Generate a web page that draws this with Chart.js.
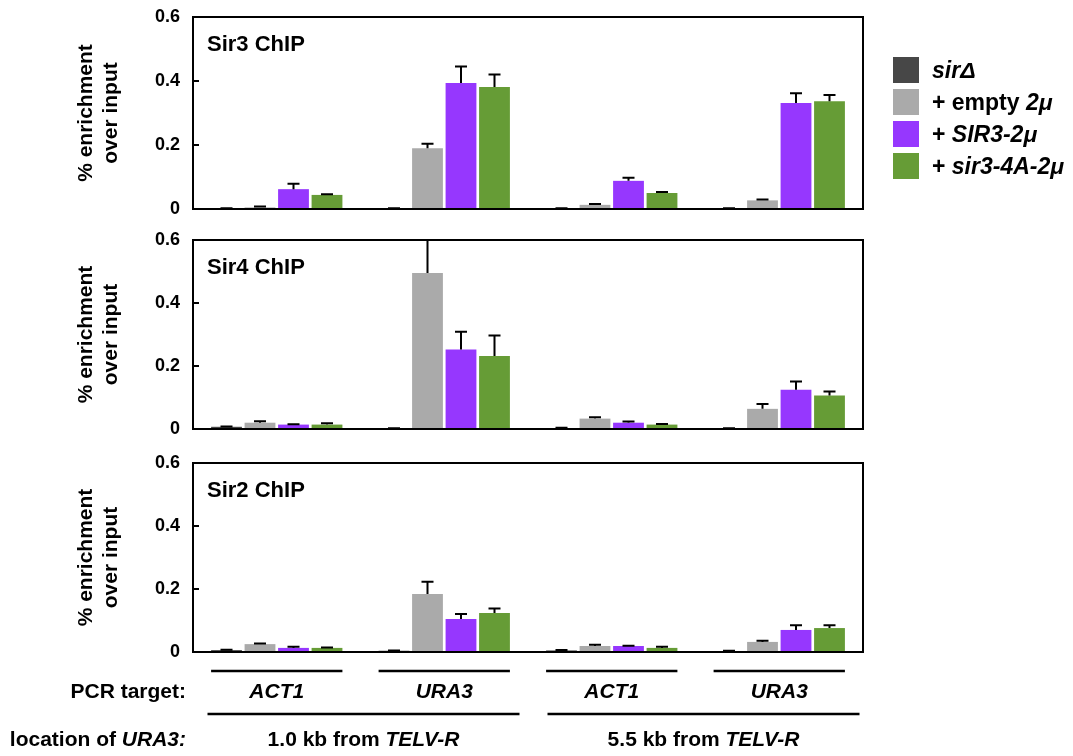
<!DOCTYPE html>
<html>
<head>
<meta charset="utf-8">
<script src="https://cdn.jsdelivr.net/npm/chart.js@4"></script>
<style>
  body { margin: 0; background: #fff; font-family: 'Liberation Sans', Arial, sans-serif; }
  #wrap { position: relative; width: 1073px; height: 756px; }
  canvas { position: absolute; left: 0; }
  #legend { position: absolute; left: 893px; top: 57px; }
  .item { display: flex; align-items: center; height: 26px; margin-bottom: 6px; font-weight: bold; font-size: 23px; color: #000; white-space: nowrap; }
  .sw { width: 26px; height: 26px; margin-right: 13px; }
</style>
</head>
<body>
<div id="wrap">
  <canvas id="sir3" width="1073" height="230" style="top:0px"></canvas>
  <canvas id="sir4" width="1073" height="222" style="top:228px"></canvas>
  <canvas id="sir2" width="1073" height="306" style="top:450px"></canvas>
  <div id="legend"></div>
</div>
<script>
// categories along x (PCR target), grouped by URA3 location
const categories = ['ACT1', 'URA3', 'ACT1', 'URA3'];
const locations = ['1.0 kb from ', '5.5 kb from '];
const seriesLabels = ['sirΔ', '+ empty 2μ', '+ SIR3-2μ', '+ sir3-4A-2μ'];
const legendMarkup = ['<i>sirΔ</i>', '+ empty <i>2μ</i>', '+ <i>SIR3-2μ</i>', '+ <i>sir3-4A-2μ</i>'];
const seriesColors = ['#474747', '#aaaaaa', '#9637fe', '#669c36'];
const yTickLabels = ['0', '0.2', '0.4', '0.6'];
const panelTitles = ['Sir3 ChIP', 'Sir4 ChIP', 'Sir2 ChIP'];

// one row per series (sirΔ, empty, SIR3, sir3-4A), one value per category
const sir3Means = [
  [0.001, 0.001, 0.001, 0.001],
  [0.005, 0.190, 0.013, 0.027],
  [0.062, 0.394, 0.088, 0.331],
  [0.044, 0.381, 0.050, 0.337]
];
const sir3Errors = [
  [0.001, 0.001, 0.001, 0.001],
  [0.003, 0.014, 0.003, 0.003],
  [0.017, 0.051, 0.010, 0.031],
  [0.002, 0.039, 0.003, 0.019]
];
const sir4Means = [
  [0.007, 0.001, 0.003, 0.001],
  [0.020, 0.495, 0.033, 0.064],
  [0.014, 0.252, 0.020, 0.125],
  [0.014, 0.232, 0.014, 0.106]
];
const sir4Errors = [
  [0.001, 0.001, 0.001, 0.001],
  [0.005, 0.150, 0.004, 0.015],
  [0.001, 0.057, 0.004, 0.026],
  [0.004, 0.065, 0.002, 0.013]
];
const sir2Means = [
  [0.006, 0.004, 0.005, 0.003],
  [0.025, 0.184, 0.019, 0.032],
  [0.013, 0.105, 0.019, 0.070],
  [0.013, 0.124, 0.013, 0.076]
];
const sir2Errors = [
  [0.001, 0.001, 0.001, 0.001],
  [0.002, 0.039, 0.004, 0.004],
  [0.004, 0.016, 0.001, 0.015],
  [0.001, 0.014, 0.004, 0.009]
];

Chart.defaults.font.family = "'Liberation Sans', Arial, sans-serif";
Chart.defaults.color = '#000';

function runFont(italic, size) {
  return (italic ? 'italic ' : '') + 'bold ' + size + "px 'Liberation Sans', Arial, sans-serif";
}

// draw text made of [text, italic] runs
function drawRuns(ctx, runs, x, y, align) {
  const widths = runs.map(r => { ctx.font = runFont(r[1], 21); return ctx.measureText(r[0]).width; });
  const total = widths.reduce((a, b) => a + b, 0);
  let cx = align === 'right' ? x - total : align === 'center' ? x - total / 2 : x;
  ctx.textAlign = 'left';
  runs.forEach((r, i) => {
    ctx.font = runFont(r[1], 21);
    ctx.fillText(r[0], cx, y);
    cx += widths[i];
  });
}

const errorBars = {
  id: 'errorBars',
  afterDatasetsDraw(chart) {
    const ctx = chart.ctx;
    const area = chart.chartArea;
    const y = chart.scales.y;
    ctx.save();
    ctx.beginPath();
    ctx.rect(area.left, area.top - 1, area.right - area.left, area.bottom - area.top + 1);
    ctx.clip();
    ctx.strokeStyle = '#000';
    ctx.lineWidth = 2;
    chart.data.datasets.forEach((ds, i) => {
      chart.getDatasetMeta(i).data.forEach((bar, j) => {
        const top = y.getPixelForValue(ds.data[j] + ds.errors[j]);
        ctx.beginPath();
        ctx.moveTo(bar.x, bar.y);
        ctx.lineTo(bar.x, top);
        ctx.moveTo(bar.x - 6, top);
        ctx.lineTo(bar.x + 6, top);
        ctx.stroke();
      });
    });
    ctx.restore();
  }
};

const frame = {
  id: 'frame',
  afterDraw(chart, args, opts) {
    const ctx = chart.ctx;
    const a = chart.chartArea;
    const y = chart.scales.y;
    ctx.save();
    ctx.strokeStyle = '#000';
    ctx.lineWidth = 2;
    ctx.strokeRect(a.left, a.top, a.right - a.left, a.bottom - a.top);
    y.ticks.forEach(t => {
      const py = y.getPixelForValue(t.value);
      ctx.beginPath();
      ctx.moveTo(a.left - 1, py);
      ctx.lineTo(a.left + 6, py);
      ctx.stroke();
    });
    ctx.fillStyle = '#000';
    ctx.font = runFont(false, 22);
    ctx.textBaseline = 'middle';
    ctx.textAlign = 'left';
    ctx.fillText(opts.text, a.left + 14, a.top + 28);
    ctx.restore();
  }
};

// PCR target / location rows under the last panel
const annotations = {
  id: 'annotations',
  afterDraw(chart) {
    const ctx = chart.ctx;
    const b = chart.chartArea.bottom;
    const first = chart.getDatasetMeta(0).data;
    const last = chart.getDatasetMeta(seriesLabels.length - 1).data;
    ctx.save();
    ctx.strokeStyle = '#000';
    ctx.fillStyle = '#000';
    ctx.lineWidth = 2.5;
    ctx.textBaseline = 'middle';
    const hline = (x1, x2, yy) => { ctx.beginPath(); ctx.moveTo(x1, yy); ctx.lineTo(x2, yy); ctx.stroke(); };
    categories.forEach((c, i) => {
      const l = first[i].x - first[i].width / 2;
      const r = last[i].x + last[i].width / 2;
      hline(l, r, b + 19);
      drawRuns(ctx, [[c, true]], (l + r) / 2, b + 40, 'center');
    });
    drawRuns(ctx, [['PCR target:', false]], 186, b + 40, 'right');
    locations.forEach((loc, k) => {
      const l = first[2 * k].x - first[2 * k].width / 2;
      const r = last[2 * k + 1].x + last[2 * k + 1].width / 2;
      const c = (l + r) / 2 + 3 + 5 * k;
      hline(c - 156, c + 156, b + 62);
      drawRuns(ctx, [[loc, false], ['TELV-R', true]], c, b + 88, 'center');
    });
    drawRuns(ctx, [['location of ', false], ['URA3:', true]], 186, b + 88, 'right');
    ctx.restore();
  }
};

function makePanel(id, title, means, errors, padTop, padBottom, extra) {
  return new Chart(document.getElementById(id), {
    type: 'bar',
    data: {
      labels: categories,
      datasets: seriesLabels.map((name, i) => ({
        label: name,
        data: means[i],
        errors: errors[i],
        backgroundColor: seriesColors[i],
        borderWidth: 0,
        barPercentage: 0.92,
        categoryPercentage: 0.8
      }))
    },
    options: {
      responsive: false,
      animation: false,
      layout: { padding: { top: padTop, bottom: padBottom, left: 0, right: 210 } },
      plugins: {
        legend: { display: false },
        tooltip: { enabled: false },
        frame: { text: title }
      },
      scales: {
        x: { display: false },
        y: {
          min: 0,
          max: 0.6,
          afterFit(scale) {
            scale.width = 193;
            // let the layout padding alone decide the plot height
            scale.paddingTop = 0;
            scale.paddingBottom = 0;
          },
          grid: { display: false, drawTicks: false },
          border: { display: false },
          ticks: {
            stepSize: 0.2,
            padding: 13,
            color: '#000',
            font: { size: 18, weight: 'bold' },
            callback: (v, i) => yTickLabels[i]
          },
          title: {
            display: true,
            text: ['% enrichment', 'over input'],
            color: '#000',
            font: { size: 21, weight: 'bold', lineHeight: 1.17 },
            padding: { top: 74, bottom: 0 }
          }
        }
      }
    },
    plugins: [errorBars, frame].concat(extra)
  });
}

makePanel('sir3', panelTitles[0], sir3Means, sir3Errors, 17, 21, []);
makePanel('sir4', panelTitles[1], sir4Means, sir4Errors, 12, 21, []);
makePanel('sir2', panelTitles[2], sir2Means, sir2Errors, 13, 104, [annotations]);

const legend = document.getElementById('legend');
seriesLabels.forEach((name, i) => {
  const row = document.createElement('div');
  row.className = 'item';
  row.innerHTML = '<div class="sw" style="background:' + seriesColors[i] + '"></div><span>' + legendMarkup[i] + '</span>';
  legend.appendChild(row);
});
</script>
</body>
</html>
